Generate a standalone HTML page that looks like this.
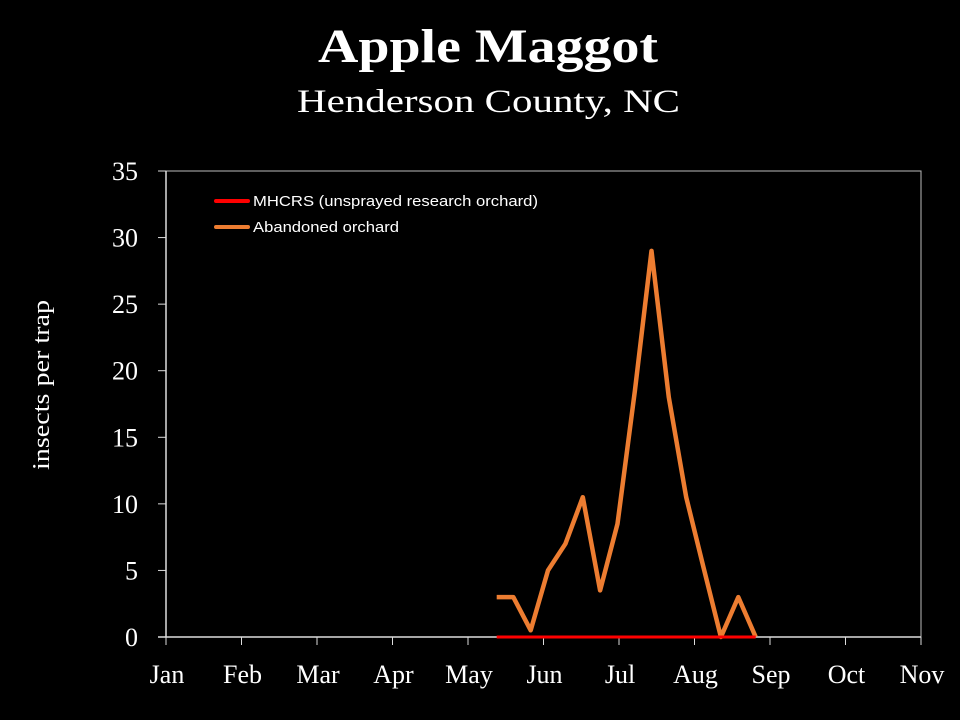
<!DOCTYPE html>
<html><head><meta charset="utf-8"><style>
html,body{margin:0;padding:0;background:#000;}
svg{display:block;}
</style></head><body>
<svg id="chart" width="960" height="720" viewBox="0 0 960 720" xmlns="http://www.w3.org/2000/svg">
<rect x="0" y="0" width="960" height="720" fill="#000"/>
<text x="318" y="62" textLength="340" lengthAdjust="spacingAndGlyphs" fill="#fff" font-family="'Liberation Serif', serif" font-weight="bold" font-size="48">Apple Maggot</text>
<text x="297" y="112" textLength="383" lengthAdjust="spacingAndGlyphs" fill="#fff" font-family="'Liberation Serif', serif" font-size="33">Henderson County, NC</text>
<text transform="translate(49,470) rotate(-90)" textLength="170" lengthAdjust="spacingAndGlyphs" fill="#fff" font-family="'Liberation Serif', serif" font-size="24">insects per trap</text>
<g id="plot"></g>
<g>
<line x1="216" y1="201" x2="248" y2="201" stroke="#ff0000" stroke-width="4" stroke-linecap="round"/>
<text x="253" y="206" textLength="285" lengthAdjust="spacingAndGlyphs" fill="#fff" font-family="'Liberation Sans', sans-serif" font-size="15">MHCRS (unsprayed research orchard)</text>
<line x1="216" y1="227" x2="248" y2="227" stroke="#ed7d31" stroke-width="4" stroke-linecap="round"/>
<text x="253" y="232" textLength="146" lengthAdjust="spacingAndGlyphs" fill="#fff" font-family="'Liberation Sans', sans-serif" font-size="15">Abandoned orchard</text>
</g>
</svg>
<script>
const months = ["Jan","Feb","Mar","Apr","May","Jun","Jul","Aug","Sep","Oct","Nov"];
const yTicks = [0,5,10,15,20,25,30,35];
const dates = [4.38,4.60,4.83,5.06,5.29,5.52,5.75,5.98,6.21,6.43,6.66,6.89,7.12,7.35,7.58,7.81];
const abandoned = [3,3,0.5,5,7,10.5,3.5,8.5,18.5,29,18,10.5,5.2,0,3,0];
const mhcrs = [0,0,0,0,0,0,0,0,0,0,0,0,0,0,0,0];

const X0=166, X1=921, Y0=637, Y1=171, YMAX=35;
function xs(m){return X0+(X1-X0)*m/(months.length-1);}
function ys(v){return Y0-(Y0-Y1)*v/YMAX;}
const NS="http://www.w3.org/2000/svg";
const g=document.getElementById('plot');
function mk(tag,attrs){const e=document.createElementNS(NS,tag);for(const k in attrs)e.setAttribute(k,attrs[k]);g.appendChild(e);return e;}

let b=mk('rect',{x:X0,y:Y1,width:X1-X0,height:Y0-Y1,fill:'none',stroke:'#bbb','stroke-width':1});



yTicks.forEach(v=>{
  const t=mk('line',{x1:X0-8,x2:X0,y1:ys(v),y2:ys(v),stroke:'#ddd','stroke-width':1});
  
  
  const l=mk('text',{x:138,y:ys(v)+9,'text-anchor':'end',fill:'#fff','font-family':"'Liberation Serif', serif",'font-size':26});
  
  
  l.textContent=v;
});
months.forEach((m,i)=>{
  const t=mk('line',{x1:xs(i),x2:xs(i),y1:Y0,y2:Y0+8,stroke:'#ddd','stroke-width':1});
  
  
  const l=mk('text',{x:xs(i)+1,y:683,'text-anchor':'middle',fill:'#fff','font-family':"'Liberation Serif', serif",'font-size':26});
  
  
  l.textContent=m;
});
let ax=mk('line',{x1:X0,x2:X0,y1:Y1,y2:Y0,stroke:'#ddd','stroke-width':1.5});


let axx=mk('line',{x1:X0-8,x2:X1,y1:Y0,y2:Y0,stroke:'#ddd','stroke-width':1.5});



function pts(arr){return arr.map((v,i)=>xs(dates[i]).toFixed(1)+','+ys(v).toFixed(1)).join(' ');}
const s1=mk('polyline',{points:pts(abandoned),fill:'none',stroke:'#ed7d31','stroke-width':4.5,'stroke-linejoin':'round'});


const s2=mk('polyline',{points:pts(mhcrs),fill:'none',stroke:'#ff0000','stroke-width':3,'stroke-linejoin':'round'});


</script>
</body></html>
